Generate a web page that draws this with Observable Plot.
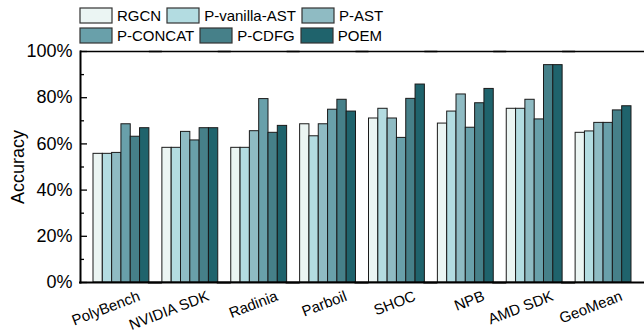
<!DOCTYPE html>
<html>
<head>
<meta charset="utf-8">
<script src="https://cdn.jsdelivr.net/npm/d3@7"></script>
<script src="https://cdn.jsdelivr.net/npm/@observablehq/plot@0.6"></script>
<style>
  body { margin: 0; background: #fff; font-family: "Liberation Sans", Arial, sans-serif; }
  #wrap { position: relative; width: 644px; height: 334px; }
  #legend { position: absolute; left: 80px; top: 7px; width: 310px; }
  .lg-swatches-wrap { min-height: 0 !important; row-gap: 4px; }
  .lg-swatch { margin-right: 6px !important; height: 16px; font-size: 15px; color: #000; font-family: "Liberation Sans", Arial, sans-serif; }
  .lg-swatch svg { margin-right: 5px !important; overflow: visible; }
  .lg-swatch svg rect { stroke: #333; stroke-width: 1.2px; }
</style>
</head>
<body>
<div id="wrap"><div id="chart"></div><div id="legend"></div></div>
<script>
const groups = ["PolyBench", "NVIDIA SDK", "Radinia", "Parboil", "SHOC", "NPB", "AMD SDK", "GeoMean"];
const series = ["RGCN", "P-vanilla-AST", "P-AST", "P-CONCAT", "P-CDFG", "POEM"];
const colors = ["#ebf5f3", "#b3dce1", "#8fbbc3", "#69a0aa", "#468089", "#1f636c"];
const rgcn        = [55.7, 58.3, 58.3, 68.5, 71.0, 68.8, 75.2, 64.8];
const pVanillaAst = [55.7, 58.3, 58.3, 63.3, 75.2, 74.0, 75.2, 65.4];
const pAst        = [56.1, 65.2, 65.5, 68.5, 71.0, 81.4, 79.1, 69.1];
const pConcat     = [68.5, 61.5, 79.4, 74.8, 62.6, 67.0, 70.6, 69.1];
const pCdfg       = [63.1, 66.8, 64.8, 79.1, 79.5, 77.6, 94.1, 74.5];
const poem        = [66.8, 66.8, 67.8, 74.0, 85.7, 83.8, 94.1, 76.3];
const majorTicks = [0, 0.2, 0.4, 0.6, 0.8, 1.0];
const minorTicks = [0.1, 0.3, 0.5, 0.7, 0.9];
const yLabel = "Accuracy";

const seriesValues = [rgcn, pVanillaAst, pAst, pConcat, pCdfg, poem];
const data = [];
groups.forEach((g, gi) => series.forEach((s, si) => data.push({group: g, series: s, value: seriesValues[si][gi] / 100})));

const font = '"Liberation Sans", Arial, sans-serif';
const half = 6.5; // half of the gap between groups

const chart = Plot.plot({
  width: 644,
  height: 334,
  marginLeft: 80 + half,
  marginRight: half,
  marginTop: 51,
  marginBottom: 52,
  style: {fontFamily: font, color: "#000", background: "#fff", overflow: "visible"},
  fx: {domain: groups, padding: 0, round: false, label: null},
  x: {domain: series, paddingInner: 0, paddingOuter: 0.698, round: false, axis: null},
  y: {domain: [0, 1]},
  color: {domain: series, range: colors},
  marks: [
    Plot.barY(data, {fx: "group", x: "series", y: "value", fill: "series", stroke: "#1a1a1a", strokeWidth: 1}),
    Plot.ruleY([1], {stroke: "#000", strokeWidth: 1.3, insetLeft: -half, insetRight: -half}),
    Plot.ruleY([0], {stroke: "#000", strokeWidth: 2.2, insetLeft: -half - 1, insetRight: -half}),
    Plot.frame({anchor: "left", fx: () => groups[0], dx: -half, stroke: "#000", strokeWidth: 2}),
    Plot.axisY(majorTicks, {dx: -half, tickSize: 0, tickPadding: 8, tickFormat: d3.format(".0%"), fontSize: 18, label: yLabel, labelAnchor: "center", labelArrow: "none", labelOffset: 76}),
    Plot.axisY(majorTicks, {dx: -half, text: null, label: null, tickSize: 7, insetLeft: 7, strokeWidth: 1.3}),
    Plot.axisY(minorTicks, {dx: -half, text: null, label: null, tickSize: 4, insetLeft: 4, strokeWidth: 1.3}),
    Plot.axisFx({anchor: "bottom", tickSize: 0, tickRotate: -21, textAnchor: "end", lineAnchor: "middle", fontSize: 15, tickPadding: 13, dx: 18, label: null})
  ]
});
document.getElementById("chart").appendChild(chart);

const legend = Plot.legend({
  color: {domain: series, range: colors},
  swatchWidth: 32,
  swatchHeight: 15,
  className: "lg",
  style: {fontFamily: font, fontSize: "15px", color: "#000"}
});
document.getElementById("legend").appendChild(legend);
</script>
</body>
</html>
